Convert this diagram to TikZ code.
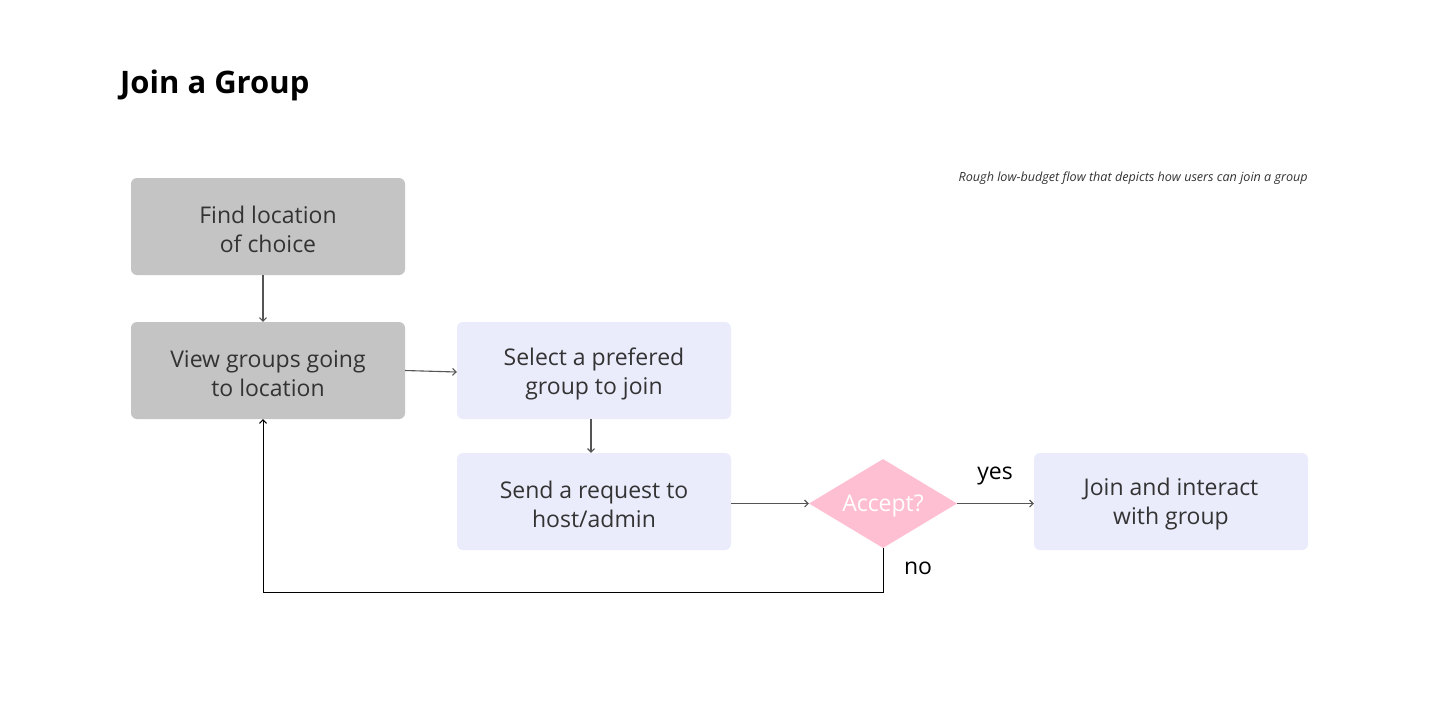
\documentclass[tikz,border=0pt]{standalone}
\usepackage{fontspec}
\setmainfont{Open Sans}
\usetikzlibrary{arrows.meta,shapes.geometric}
\definecolor{boxgray}{HTML}{C4C4C4}
\definecolor{lav}{HTML}{EAECFC}
\definecolor{pinkd}{HTML}{FFBFD2}
\definecolor{txt}{HTML}{333333}
\definecolor{arr}{HTML}{555555}
\tikzset{
  box/.style={rectangle, rounded corners=6pt, minimum width=274pt, minimum height=97pt,
    inner sep=0pt},
  graybox/.style={box, fill=boxgray},
  lavbox/.style={box, fill=lav},
  boxtext/.style={align=center, text=txt, inner sep=0pt,
    font=\fontsize{23pt}{29pt}\selectfont},
  decide/.style={diamond, fill=pinkd, minimum width=148pt, minimum height=89pt, inner sep=0pt,
    aspect=1.66},
  conn/.style={draw=arr, line width=1.1pt, -{Straight Barb[length=3.5pt,width=7pt]}},
  lbl/.style={font=\fontsize{23pt}{27pt}\selectfont, text=black, inner sep=0pt}
}
\begin{document}
\begin{tikzpicture}[x=1pt,y=-1pt]
\useasboundingbox (0,0) rectangle (1440,716);
\fill[white] (0,0) rectangle (1440,716);

\node[anchor=base west, inner sep=0pt, font=\fontsize{31pt}{36pt}\selectfont\bfseries] (title) at (120,93) {Join a Group};
\node[anchor=east, inner sep=0pt, text=txt, font=\fontsize{12.6pt}{15pt}\selectfont\itshape] (note) at (1308,178) {Rough low-budget flow that depicts how users can join a group};

\node[graybox] (b1) at (268,226.5) {};
\node[graybox] (b2) at (268,370.5) {};
\node[lavbox] (b3) at (594,370.5) {};
\node[lavbox] (b4) at (594,501.5) {};
\node[decide] (acc) at (883,503.5) {};
\node[lavbox] (b5) at (1171,501.5) {};

\node[boxtext] (t1) at (268,229.5) {Find location\\of choice};
\node[boxtext] (t2) at (268,373.5) {View groups going\\to location};
\node[boxtext] (t3) at (594,373.5) {Select a prefered\\group to join};
\node[boxtext] (t4) at (594,504.5) {Send a request to\\host/admin};
\node[boxtext, text=white] (t5) at (883,505.5) {Accept?};
\node[boxtext] (t6) at (1171,504.5) {Join and interact\\with group};

\node[lbl] (yes) at (995,476) {yes};
\node[lbl] (no) at (918,568) {no};

\coordinate (c1) at (883,592);
\coordinate (c2) at (263,592);

\draw[conn] ([xshift=-5pt]b1.south) -- ([xshift=-5pt]b2.north);
\draw[conn] (b2.east) -- ([yshift=-1.5pt]b3.west);
\draw[conn] ([xshift=-3pt]b3.south) -- ([xshift=-3pt]b4.north);
\draw[conn] (b4.east |- acc.west) -- (acc.west);
\draw[conn] (acc.east) -- (acc.east -| b5.west);
\draw[conn, draw=black, line width=1pt] (acc.south) -- (c1) -- (c2) -- ([xshift=-5pt]b2.south);
\end{tikzpicture}
\end{document}
